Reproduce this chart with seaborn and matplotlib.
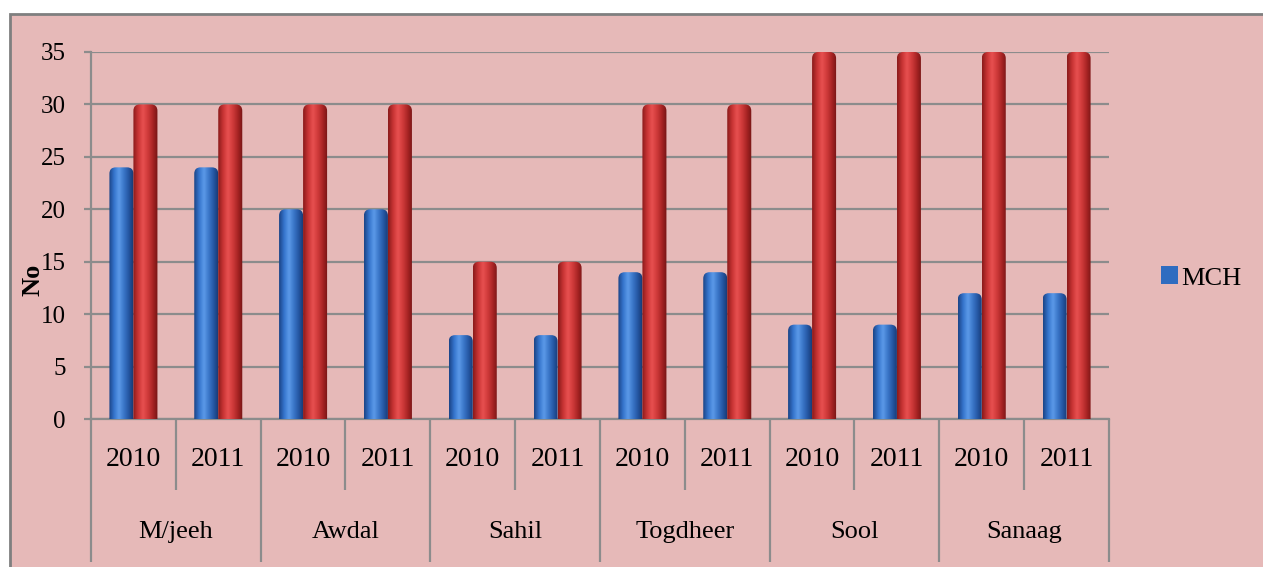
import numpy as np
import pandas as pd
import matplotlib
matplotlib.use("Agg")
import matplotlib.pyplot as plt
import matplotlib.transforms as mtransforms
from matplotlib.patches import FancyBboxPatch, Rectangle
from matplotlib.colors import LinearSegmentedColormap
import seaborn as sns

regions = ["M/jeeh", "Awdal", "Sahil", "Togdheer", "Sool", "Sanaag"]
years = ["2010", "2011"]
mch = [24, 24, 20, 20, 8, 8, 14, 14, 9, 9, 12, 12]
required = [30, 30, 30, 30, 15, 15, 30, 30, 35, 35, 35, 35]
yticks = [0, 5, 10, 15, 20, 25, 30, 35]

BG = "#e6b9b8"
LINE = "#8c8c8c"
sns.set_theme(style="white")
plt.rcParams["font.family"] = ["Liberation Serif", "DejaVu Serif"]
plt.rcParams["text.color"] = "black"
plt.rcParams["ytick.labelcolor"] = "black"

slots = [f"{r} {y}" for r in regions for y in years]
df = pd.DataFrame({
    "slot": slots * 2,
    "value": mch + required,
    "series": ["MCH"] * len(slots) + ["Required"] * len(slots),
})

fig = plt.figure(figsize=(12.63, 5.67), dpi=100, facecolor="white")
# outer chart frame (only top and left edges visible in the reference)
fig.patches.append(Rectangle((10 / 1263, -0.1), 1.2, 1 - 14 / 567 + 0.1,
                             transform=fig.transFigure, facecolor=BG,
                             edgecolor="#7f7f7f", lw=2, zorder=-5))
ax = fig.add_axes([91 / 1263, 148 / 567, 1018 / 1263, 367 / 567])
ax.set_facecolor("none")

sns.barplot(data=df, x="slot", y="value", hue="series", order=slots,
            palette=["#2f6cc0", "#c0302c"], width=0.566, gap=0,
            saturation=1, ax=ax)
handles, labels = ax.get_legend_handles_labels()
ax.get_legend().remove()

cmaps = {
    "#2f6cc0": LinearSegmentedColormap.from_list(
        "b", ["#1b4486", "#3574cc", "#5c9ae8", "#3a76c8", "#2456a2", "#17366e"]),
    "#c0302c": LinearSegmentedColormap.from_list(
        "r", ["#8a1a1a", "#c83434", "#e85050", "#cf3a3a", "#a82424", "#741414"]),
}
grad = np.linspace(0, 1, 64)[np.newaxis, :]
for bar in list(ax.patches):
    x0, w, h = bar.get_x(), bar.get_width(), bar.get_height()
    if h <= 0:
        continue
    fc = matplotlib.colors.to_hex(bar.get_facecolor())
    cmap = cmaps.get(fc, cmaps["#2f6cc0"])
    bar.set_visible(False)
    clip = FancyBboxPatch((x0, -1), w, h + 1,
                          boxstyle="round,pad=0,rounding_size=0.075",
                          mutation_aspect=8.1, facecolor="none",
                          edgecolor="none", transform=ax.transData)
    ax.add_patch(clip)
    im = ax.imshow(grad, extent=(x0, x0 + w, -1, h), aspect="auto",
                   cmap=cmap, interpolation="bicubic", zorder=3)
    im.set_clip_path(clip)

ax.set_xlim(-0.5, len(slots) - 0.5)
ax.set_ylim(0, 35)
ax.set_yticks(yticks)
ax.set_xticks([])
ax.set_xlabel("")
ax.set_ylabel("")
ax.yaxis.grid(True, color=LINE, lw=1.6, zorder=1)
ax.set_axisbelow(True)
ax.tick_params(axis="y", length=5, width=1.6, color=LINE, pad=13,
               labelsize=18, left=True)
for s in ["top", "right"]:
    ax.spines[s].set_visible(False)
for s in ["left", "bottom"]:
    ax.spines[s].set_color(LINE)
    ax.spines[s].set_linewidth(1.6)

# two-level category axis
trans = mtransforms.blended_transform_factory(ax.transData, ax.transAxes)
ax.vlines(np.arange(0.5, len(slots), 2), -71 / 367, 0, colors=LINE, lw=1.6,
          transform=trans, clip_on=False)
ax.vlines(np.arange(-0.5, len(slots), 2), -143 / 367, 0, colors=LINE, lw=1.6,
          transform=trans, clip_on=False)
for i, s in enumerate(slots):
    ax.text(i, -41 / 367, s.split(" ")[1], ha="center", va="center",
            fontsize=20, transform=trans)
for i, r in enumerate(regions):
    ax.text(2 * i + 0.5, -113 / 367, r, ha="center", va="center",
            fontsize=19, transform=trans)

fig.text(33 / 1263, 1 - 280 / 567, "No", rotation=90, ha="center",
         va="center", fontsize=19, fontweight="bold")

handles[0].set_edgecolor("none")
fig.legend(handles=[handles[0]], labels=["MCH"], loc="center left",
           bbox_to_anchor=(1150 / 1263, 1 - 278 / 567), frameon=False,
           fontsize=19, handlelength=0.65, handleheight=0.65,
           handletextpad=0.15, borderaxespad=0)

fig.savefig("out.png", dpi=100, facecolor=fig.get_facecolor())
